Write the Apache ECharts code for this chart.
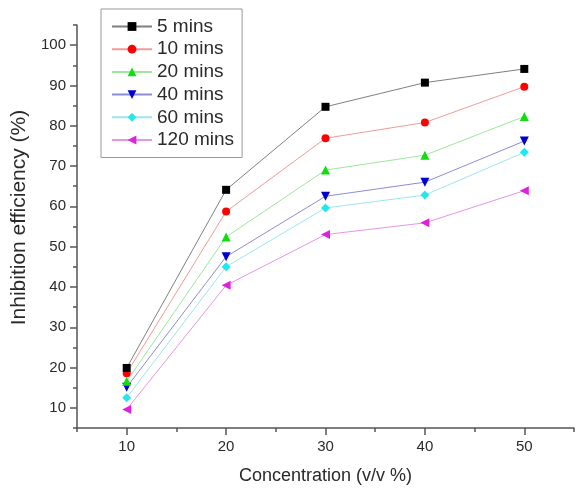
<!DOCTYPE html>
<html>
<head>
<meta charset="utf-8">
<script src="https://cdn.jsdelivr.net/npm/echarts@6/dist/echarts.min.js"></script>
<style>
  html, body { margin: 0; padding: 0; background: #fff; }
  #chart { width: 577px; height: 490px; }
</style>
</head>
<body>
<div id="chart"></div>
<script>
// Data
var concentration = [10, 20, 30, 40, 50];
var seriesNames = ['5 mins', '10 mins', '20 mins', '40 mins', '60 mins', '120 mins'];
var ie5   = [19.9, 64.1, 84.7, 90.7, 94.1];
var ie10  = [18.6, 58.7, 76.9, 80.8, 89.7];
var ie20  = [16.6, 52.4, 69.0, 72.7, 82.3];
var ie40  = [15.1, 47.5, 62.5, 66.0, 76.2];
var ie60  = [12.5, 45.0, 59.6, 62.8, 73.4];
var ie120 = [9.6, 40.4, 53.0, 55.9, 63.9];
var xMajorTicks = [10, 20, 30, 40, 50];
var yMajorTicks = [10, 20, 30, 40, 50, 60, 70, 80, 90, 100];

var allValues = [ie5, ie10, ie20, ie40, ie60, ie120];
var markerColors = ['#000000', '#ff0000', '#11dd11', '#0000cc', '#22e8ee', '#dd22dd'];
var lineColors = ['#808080', '#f29a9a', '#9ce89c', '#8c8cd8', '#9ce6ee', '#e696e6'];
var symbols = ['rect', 'circle', 'triangle', 'triangle', 'diamond', 'triangle'];
var rotates = [0, 0, 0, 180, 0, 90];
var sizes = [8, 8, 9, 9, 9, 9];

var FONT = 'Liberation Sans, Arial, sans-serif';
var TEXT = '#2a2a2a';
var AXIS = '#555555';

function pairs(vals) {
  return concentration.map(function (c, i) { return [c, vals[i]]; });
}

var series = allValues.map(function (vals, k) {
  return {
    name: seriesNames[k],
    type: 'line',
    xAxisIndex: 0,
    yAxisIndex: 0,
    data: pairs(vals),
    symbol: symbols[k],
    symbolRotate: rotates[k],
    symbolSize: sizes[k],
    showAllSymbol: true,
    itemStyle: { color: markerColors[k] },
    lineStyle: { color: lineColors[k], width: 1 },
    emphasis: { disabled: true },
    animation: false,
    z: 10 - k
  };
});

var chart = echarts.init(document.getElementById('chart'), null, { renderer: 'canvas' });
chart.setOption({
  backgroundColor: '#ffffff',
  animation: false,
  textStyle: { fontFamily: FONT },
  grid: { left: 77, right: 0, top: 25, bottom: 60, containLabel: false },
  legend: {
    orient: 'vertical',
    left: 101,
    top: 9,
    padding: [8, 8, 8, 10],
    itemWidth: 40,
    itemHeight: 11,
    itemGap: 3.7,
    borderColor: '#999999',
    borderWidth: 1,
    backgroundColor: '#ffffff',
    textStyle: { fontSize: 19, color: TEXT, fontFamily: FONT, lineHeight: 19 },
    data: seriesNames
  },
  xAxis: [{
    type: 'value',
    min: 5, max: 55, interval: 5,
    name: 'Concentration (v/v %)',
    nameLocation: 'middle',
    nameGap: 39,
    nameTextStyle: { fontSize: 18, color: TEXT, fontFamily: FONT },
    axisLine: { show: true, onZero: false, lineStyle: { color: AXIS, width: 1.5 } },
    axisTick: { show: true, inside: false, length: 4, lineStyle: { color: AXIS, width: 1.5 } },
    axisLabel: {
      margin: 11, fontSize: 15, color: TEXT, fontFamily: FONT,
      formatter: function (v) { return v % 10 === 0 ? String(v) : ''; }
    },
    splitLine: { show: false }
  }, {
    type: 'value',
    position: 'bottom',
    min: 5, max: 55,
    axisLine: { show: false, onZero: false },
    axisTick: { show: true, length: 7, customValues: xMajorTicks, lineStyle: { color: AXIS, width: 1.5 } },
    axisLabel: { show: false },
    splitLine: { show: false }
  }],
  yAxis: [{
    type: 'value',
    position: 'left',
    min: 5, max: 105, interval: 5,
    name: 'Inhibition efficiency (%)',
    nameLocation: 'middle',
    nameGap: 45,
    nameRotate: 90,
    nameTextStyle: { fontSize: 21, color: TEXT, fontFamily: FONT, padding: [0, 0, 0, 18] },
    axisLine: { show: true, onZero: false, lineStyle: { color: AXIS, width: 1.5 } },
    axisTick: { show: true, inside: false, length: 4, lineStyle: { color: AXIS, width: 1.5 } },
    axisLabel: {
      margin: 11, fontSize: 15, color: TEXT, fontFamily: FONT,
      formatter: function (v) { return v % 10 === 0 ? String(v) : ''; }
    },
    splitLine: { show: false }
  }, {
    type: 'value',
    position: 'left',
    min: 5, max: 105,
    axisLine: { show: false, onZero: false },
    axisTick: { show: true, length: 7, customValues: yMajorTicks, lineStyle: { color: AXIS, width: 1.5 } },
    axisLabel: { show: false },
    splitLine: { show: false }
  }],
  series: series
});
</script>
</body>
</html>
